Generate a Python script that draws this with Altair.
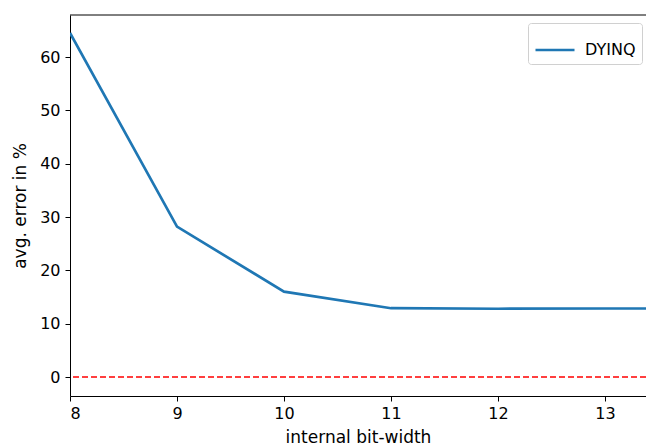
import altair as alt
import pandas as pd

bit_width = [8, 9, 10, 11, 12, 13, 14]
avg_error = [64.5, 28.2, 16.0, 12.9, 12.8, 12.85, 12.85]
series = ["DYINQ"] * len(bit_width)

df = pd.DataFrame({"bit": bit_width, "err": avg_error, "series": series})
zero_df = pd.DataFrame({"y": [0]})
top_df = pd.DataFrame({"y": [67.875]})

FONT = "DejaVu Sans"
xscale = alt.Scale(domain=[8, 13.383], nice=False, zero=False)
yscale = alt.Scale(domain=[-3.56, 67.875], nice=False, zero=False)

line = alt.Chart(df).mark_line(strokeWidth=2.7, clip=True).encode(
    x=alt.X("bit:Q", scale=xscale,
            axis=alt.Axis(title="internal bit-width", values=[8, 9, 10, 11, 12, 13],
                          format="d", grid=False, tickSize=5, labelPadding=4,
                          titlePadding=8)),
    y=alt.Y("err:Q", scale=yscale,
            axis=alt.Axis(title="avg. error in %", values=[0, 10, 20, 30, 40, 50, 60],
                          grid=False, tickSize=5, labelPadding=5, titlePadding=10)),
    color=alt.Color("series:N", scale=alt.Scale(range=["#1f77b4"]),
                    legend=alt.Legend(title=None, orient="none", legendX=458, legendY=8,
                                      symbolType="stroke", symbolSize=1521,
                                      symbolStrokeWidth=2.7, labelFontSize=16,
                                      labelFont=FONT, padding=6, strokeColor="#d0d0d0",
                                      fillColor="white", cornerRadius=3,
                                      labelOffset=9, labelColor="black")),
)

zero = alt.Chart(zero_df).mark_rule(color="red", strokeDash=[6, 3], strokeWidth=1.5).encode(
    y=alt.Y("y:Q", scale=yscale)
)

top = alt.Chart(top_df).mark_rule(color="black", strokeWidth=1).encode(
    y=alt.Y("y:Q", scale=yscale)
)

chart = alt.layer(zero, line, top).properties(
    width=576, height=381,
    padding={"left": 70, "top": 15, "right": 0, "bottom": 49},
    autosize=alt.AutoSizeParams(type="none"),
    background="white",
).configure_view(stroke=None).configure_axis(
    domainColor="black", tickColor="black", labelColor="black", titleColor="black",
    labelFont=FONT, titleFont=FONT, labelFontSize=16, titleFontSize=17,
    titleFontWeight="normal", domainWidth=1, tickWidth=1,
)

chart.save("out.html", embed_options={"renderer": "svg", "actions": False})
